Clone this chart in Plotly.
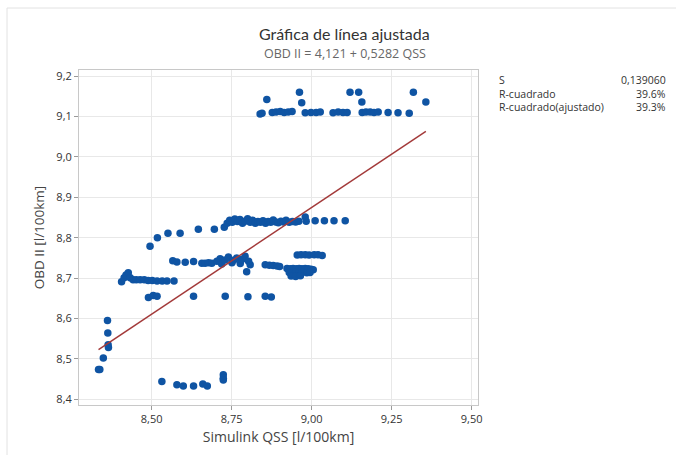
import plotly.graph_objects as go

# Regression coefficients: OBD II = b0 + b1 * QSS
b0 = 4.121
b1 = 0.5282

# Summary statistics shown beside the plot
stat_labels = ["S", "R-cuadrado", "R-cuadrado(ajustado)"]
stat_values = ["0,139060", "39.6%", "39.3%"]

# Observations (Simulink QSS, OBD II), grouped by band
top_x = [8.839, 8.845, 8.877, 8.889, 8.902, 8.914, 8.927, 8.939, 8.980, 8.998, 9.014, 9.027,
         9.067, 9.083, 9.098, 9.111, 9.158, 9.170, 9.183, 9.195, 9.208, 9.239, 9.270, 9.305,
         8.860, 8.962, 8.969, 9.120, 9.147, 9.157, 9.318, 9.357]
top_y = [9.106, 9.108, 9.110, 9.111, 9.112, 9.110, 9.111, 9.112, 9.109, 9.110, 9.110, 9.111,
         9.109, 9.111, 9.110, 9.110, 9.110, 9.111, 9.111, 9.110, 9.111, 9.110, 9.109, 9.108,
         9.142, 9.160, 9.134, 9.160, 9.160, 9.136, 9.160, 9.136]

mid_x = [8.495, 8.518, 8.551, 8.589, 8.646, 8.696, 8.727,
         8.736, 8.744, 8.752, 8.760, 8.768, 8.776, 8.784, 8.792, 8.800, 8.808, 8.816, 8.824,
         8.832, 8.840, 8.848, 8.856, 8.864, 8.872, 8.880, 8.888, 8.896, 8.904, 8.912, 8.920,
         8.930, 8.940, 8.950, 8.960,
         8.980, 8.983, 9.011, 9.040, 9.070, 9.105]
mid_y = [8.779, 8.800, 8.811, 8.811, 8.821, 8.821, 8.826,
         8.836, 8.843, 8.838, 8.846, 8.840, 8.845, 8.836, 8.841, 8.847, 8.838, 8.843, 8.836,
         8.840, 8.838, 8.842, 8.836, 8.840, 8.838, 8.844, 8.839, 8.837, 8.841, 8.839, 8.843,
         8.838, 8.840, 8.839, 8.841,
         8.851, 8.841, 8.842, 8.842, 8.842, 8.842]

row74_x = [8.566, 8.579, 8.605, 8.631, 8.657, 8.667, 8.678, 8.688, 8.704, 8.714, 8.719, 8.730,
           8.740, 8.751, 8.756, 8.766, 8.777, 8.782, 8.792, 8.803, 8.808, 8.797, 8.855, 8.868,
           8.880, 8.892, 8.900]
row74_y = [8.743, 8.740, 8.739, 8.741, 8.737, 8.737, 8.738, 8.737, 8.742, 8.748, 8.735, 8.745,
           8.752, 8.738, 8.744, 8.750, 8.736, 8.746, 8.754, 8.742, 8.733, 8.716, 8.733, 8.732,
           8.731, 8.730, 8.729]

row72_x = [8.923, 8.933, 8.942, 8.952, 8.961, 8.970, 8.980, 8.989, 8.998, 9.005,
           8.930, 8.940, 8.950, 8.960, 8.970, 8.985, 8.995, 8.936, 8.950, 8.965,
           8.955, 8.967, 8.980, 8.992, 9.008, 9.020, 9.033]
row72_y = [8.724, 8.723, 8.724, 8.723, 8.724, 8.723, 8.724, 8.723, 8.722, 8.721,
           8.714, 8.713, 8.714, 8.713, 8.714, 8.713, 8.714, 8.705, 8.704, 8.706,
           8.757, 8.758, 8.758, 8.757, 8.758, 8.758, 8.756]

row70_x = [8.406, 8.414, 8.420, 8.427, 8.433, 8.442, 8.452, 8.464, 8.477, 8.489, 8.502, 8.517,
           8.533, 8.548, 8.570]
row70_y = [8.691, 8.701, 8.708, 8.713, 8.701, 8.696, 8.696, 8.696, 8.696, 8.694, 8.694, 8.693,
           8.693, 8.693, 8.693]

row65_x = [8.490, 8.505, 8.517, 8.631, 8.730, 8.801, 8.855, 8.874]
row65_y = [8.652, 8.657, 8.655, 8.655, 8.655, 8.654, 8.655, 8.653]

low_x = [8.362, 8.363, 8.364, 8.365, 8.349, 8.334, 8.338,
         8.532, 8.579, 8.599, 8.631, 8.660, 8.674, 8.724, 8.724, 8.724]
low_y = [8.595, 8.564, 8.535, 8.528, 8.502, 8.474, 8.474,
         8.444, 8.436, 8.433, 8.433, 8.438, 8.433, 8.461, 8.452, 8.448]

qss = top_x + mid_x + row74_x + row72_x + row70_x + row65_x + low_x
obd = top_y + mid_y + row74_y + row72_y + row70_y + row65_y + low_y

x_ticks = [8.50, 8.75, 9.00, 9.25, 9.50]
y_ticks = [8.4, 8.5, 8.6, 8.7, 8.8, 8.9, 9.0, 9.1, 9.2]

FONT = "Open Sans"
TITLE_FONT = "Lato"

# Canvas and plot-area geometry in pixels
W, H = 676, 455
plot_l, plot_r, plot_t, plot_b = 79, 478, 70, 405


def to_paper(px, py):
    return (px - plot_l) / (plot_r - plot_l), (plot_b - py) / (plot_b - plot_t)


fig = go.Figure()

fig.add_trace(go.Scatter(
    x=qss, y=obd, mode="markers",
    marker=dict(color="#0F54A3", size=7.5, line=dict(width=0)),
    hoverinfo="skip", showlegend=False,
))

x_lo, x_hi = min(qss), max(qss)
fig.add_trace(go.Scatter(
    x=[x_lo, x_hi], y=[b0 + b1 * x_lo, b0 + b1 * x_hi], mode="lines",
    line=dict(color="#A33A3A", width=1.5),
    hoverinfo="skip", showlegend=False,
))

axis_common = dict(
    showgrid=True, gridcolor="#E8E8E8", gridwidth=1,
    showline=True, linecolor="#C8C8C8", linewidth=1, mirror=True,
    ticks="outside", ticklen=4, tickcolor="#9A9A9A",
    tickfont=dict(family=FONT, size=11, color="#333333"),
    zeroline=False,
)

fig.update_xaxes(
    range=[8.273, 9.52], tickvals=x_ticks, tickformat=".2f",
    title=dict(text="Simulink QSS [l/100km]", font=dict(family=FONT, size=14, color="#444444"),
               standoff=6),
    **axis_common,
)
fig.update_yaxes(
    range=[8.386, 9.215], tickvals=y_ticks, tickformat=".1f",
    title=dict(text="OBD II [l/100km]", font=dict(family=FONT, size=13.5, color="#444444"),
               standoff=8),
    **axis_common,
)

fig.update_layout(
    width=W, height=H,
    margin=dict(l=plot_l, r=W - plot_r, t=plot_t, b=H - plot_b),
    paper_bgcolor="white", plot_bgcolor="white",
    separators=", ",
    showlegend=False,
)

# Title and equation
tx, ty = to_paper(344, 33)
fig.add_annotation(text="Gráfica de línea ajustada", x=tx, y=ty, xref="paper", yref="paper",
                   showarrow=False, xanchor="center", yanchor="middle",
                   font=dict(family=TITLE_FONT, size=16, color="#333333"))
sx, sy = to_paper(345, 53)
fig.add_annotation(text="OBD II = 4,121 + 0,5282 QSS", x=sx, y=sy, xref="paper", yref="paper",
                   showarrow=False, xanchor="center", yanchor="middle",
                   font=dict(family=FONT, size=12.5, color="#666666"))

# Statistics table
for lab, val, py in zip(stat_labels, stat_values, [80, 94, 107]):
    lx, ly = to_paper(497, py)
    rx, _ = to_paper(668, py)
    fig.add_annotation(text=lab, x=lx, y=ly, xref="paper", yref="paper", showarrow=False,
                       xanchor="left", yanchor="middle",
                       font=dict(family=FONT, size=10.5, color="#333333"))
    fig.add_annotation(text=val, x=rx, y=ly, xref="paper", yref="paper", showarrow=False,
                       xanchor="right", yanchor="middle",
                       font=dict(family=FONT, size=10.5, color="#333333"))

# Faint outer frame of the graph window (top and left edges)
fx0, fy0 = to_paper(7, 8)
fx1, _ = to_paper(W + 5, 8)
_, fy1 = to_paper(7, H + 5)
fig.add_shape(type="line", xref="paper", yref="paper", x0=fx0, y0=fy0, x1=fx1, y1=fy0,
              line=dict(color="#E2E2E2", width=1))
fig.add_shape(type="line", xref="paper", yref="paper", x0=fx0, y0=fy0, x1=fx0, y1=fy1,
              line=dict(color="#E2E2E2", width=1))

fig.write_html("out.html")
